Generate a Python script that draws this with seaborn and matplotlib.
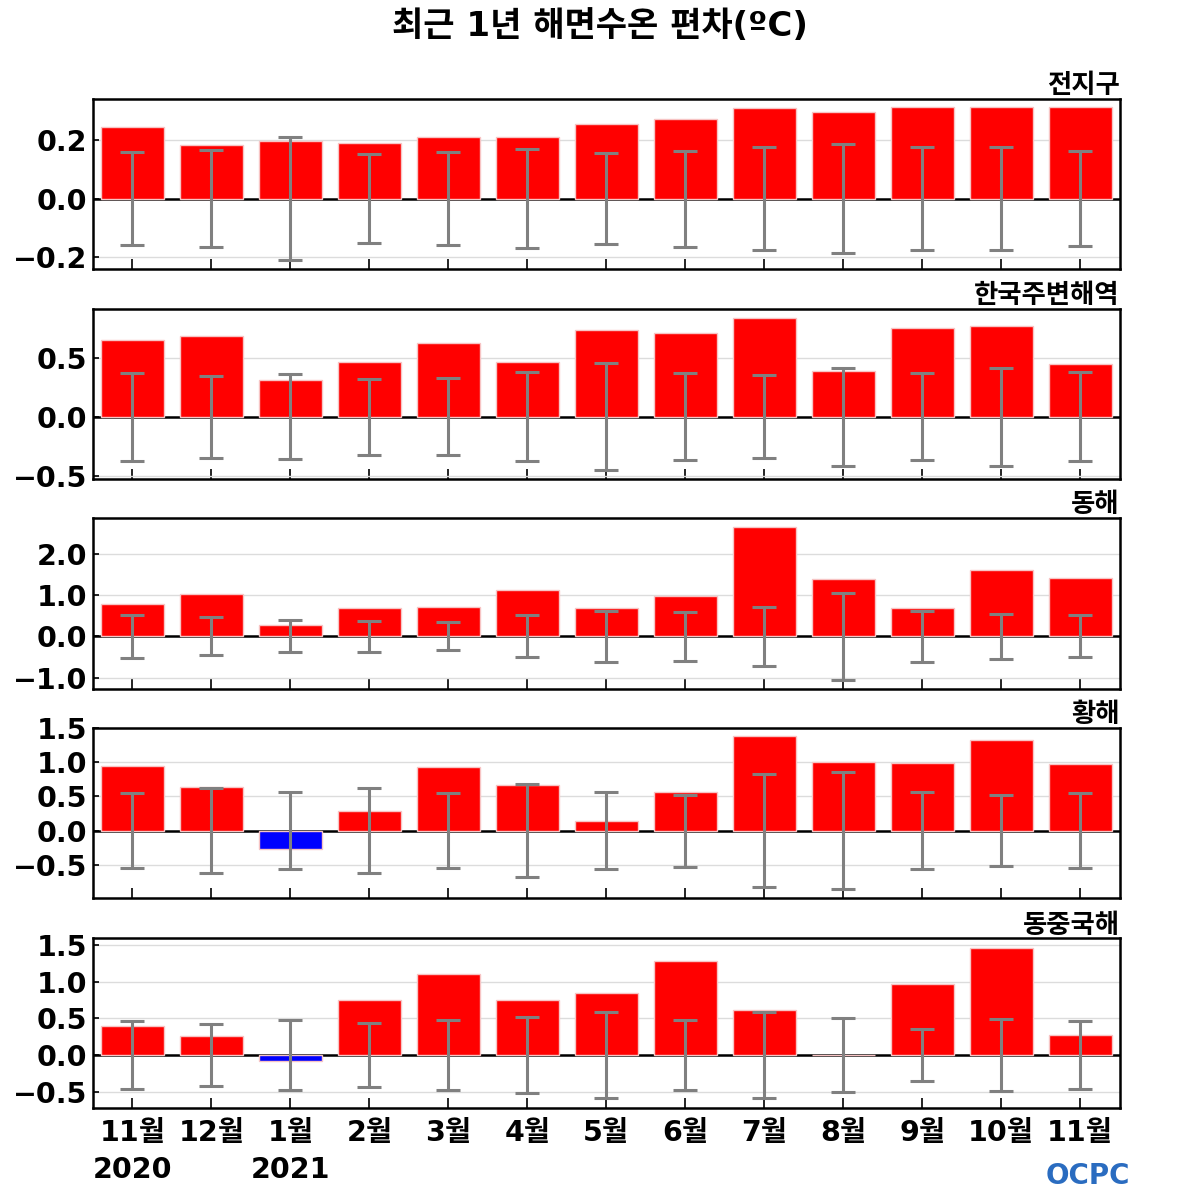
import numpy as np
import pandas as pd
import matplotlib
matplotlib.use("Agg")
import matplotlib.pyplot as plt
from matplotlib.ticker import FuncFormatter
import seaborn as sns

# 월 라벨
months = ["11월", "12월", "1월", "2월", "3월", "4월", "5월",
          "6월", "7월", "8월", "9월", "10월", "11월"]
years = ["2020", "", "2021", "", "", "", "", "", "", "", "", "", ""]

regions = ["전지구", "한국주변해역", "동해", "황해", "동중국해"]

# 편차 (ºC)
anom_global = [0.245, 0.183, 0.196, 0.190, 0.211, 0.211, 0.256,
               0.273, 0.309, 0.297, 0.312, 0.312, 0.312]
anom_korea = [0.657, 0.689, 0.314, 0.463, 0.629, 0.469, 0.734,
              0.709, 0.843, 0.389, 0.751, 0.771, 0.451]
anom_east = [0.78, 1.02, 0.28, 0.68, 0.71, 1.12, 0.69,
             0.97, 2.65, 1.40, 0.69, 1.62, 1.43]
anom_yellow = [0.95, 0.63, -0.265, 0.285, 0.925, 0.665, 0.147,
               0.56, 1.38, 1.005, 0.98, 1.32, 0.975]
anom_ecs = [0.40, 0.266, -0.085, 0.743, 1.10, 0.752, 0.842,
            1.274, 0.612, 0.0, 0.967, 1.462, 0.274]

# 표준편차 (오차막대)
std_global = [0.16, 0.165, 0.211, 0.152, 0.158, 0.168, 0.155,
              0.164, 0.176, 0.187, 0.177, 0.177, 0.162]
std_korea = [0.375, 0.349, 0.36, 0.323, 0.329, 0.38, 0.457,
             0.371, 0.354, 0.417, 0.371, 0.417, 0.377]
std_east = [0.52, 0.46, 0.39, 0.37, 0.34, 0.51, 0.61,
            0.60, 0.72, 1.06, 0.61, 0.54, 0.51]
std_yellow = [0.55, 0.62, 0.56, 0.617, 0.55, 0.68, 0.56,
              0.525, 0.83, 0.853, 0.56, 0.52, 0.55]
std_ecs = [0.466, 0.419, 0.482, 0.441, 0.477, 0.518, 0.585,
           0.477, 0.58, 0.508, 0.351, 0.495, 0.464]

anoms = [anom_global, anom_korea, anom_east, anom_yellow, anom_ecs]
stds = [std_global, std_korea, std_east, std_yellow, std_ecs]

ylims = [(-0.242, 0.34), (-0.53, 0.92), (-1.27, 2.87), (-0.99, 1.5), (-0.72, 1.6)]
yticks = [[-0.2, 0.0, 0.2], [-0.5, 0.0, 0.5], [-1.0, 0.0, 1.0, 2.0],
          [-0.5, 0.0, 0.5, 1.0, 1.5], [-0.5, 0.0, 0.5, 1.0, 1.5]]

sns.set_style("white")
plt.rcParams["font.family"] = ["DejaVu Sans", "Noto Sans CJK KR"]
plt.rcParams["font.weight"] = "bold"
plt.rcParams["text.color"] = "black"
plt.rcParams["xtick.color"] = "black"
plt.rcParams["ytick.color"] = "black"

fig, axes = plt.subplots(5, 1, figsize=(12, 12), dpi=100)
fig.subplots_adjust(left=0.0775, right=0.933, top=0.9175, bottom=0.0767, hspace=0.23)

fmt = FuncFormatter(lambda v, p: f"{v:.1f}".replace("-", "\u2212"))

for i, ax in enumerate(axes):
    df = pd.DataFrame({"pos": [str(k) for k in range(len(months))],
                       "anom": anoms[i]})
    colors = ["#ff0000" if v >= 0 else "#0000ff" for v in anoms[i]]
    sns.barplot(data=df, x="pos", y="anom", hue="pos", palette=colors,
                saturation=1, legend=False, width=0.8, edgecolor="#f7c4c4",
                linewidth=1, ax=ax, zorder=2)
    ax.axhline(0, color="black", lw=1.8, zorder=1)
    ax.errorbar(np.arange(len(months)), np.zeros(len(months)), yerr=stds[i],
                fmt="none", ecolor="#808080", elinewidth=2.2, capsize=8.5,
                capthick=2.2, zorder=3)
    ax.set_ylim(*ylims[i])
    ax.set_xlim(-0.5, len(months) - 0.5)
    ax.set_yticks(yticks[i])
    ax.yaxis.set_major_formatter(fmt)
    ax.yaxis.grid(True, color="#dcdcdc", lw=1)
    ax.set_axisbelow(True)
    ax.set_xlabel("")
    ax.set_ylabel("")
    ax.tick_params(axis="y", direction="in", length=4, width=1.2, left=True,
                   labelsize=20.5, pad=4)
    ax.tick_params(axis="x", direction="in", length=7, width=1.2, bottom=True,
                   labelsize=20.5, pad=8)
    for lab in ax.get_yticklabels():
        lab.set_fontweight("bold")
    for s in ax.spines.values():
        s.set_visible(True)
        s.set_color("black")
        s.set_linewidth(1.8)
    ax.set_title(regions[i], loc="right", fontsize=19, fontweight="bold",
                 pad=3, family=["Noto Sans CJK KR"])
    if i < len(axes) - 1:
        ax.set_xticklabels([])
    else:
        labels = [m if y == "" else f"{m}\n{y}" for m, y in zip(months, years)]
        ax.set_xticklabels(labels, fontweight="bold", fontsize=20.5,
                           linespacing=1.4, va="top")

fig.suptitle("최근 1년 해면수온 편차(ºC)", fontsize=24.5, fontweight="bold", y=0.992)
fig.text(0.942, 0.008, "OCPC", color="#2a6cc0", fontsize=20, fontweight="bold",
         ha="right", va="bottom")

fig.savefig("out.png", dpi=100)
